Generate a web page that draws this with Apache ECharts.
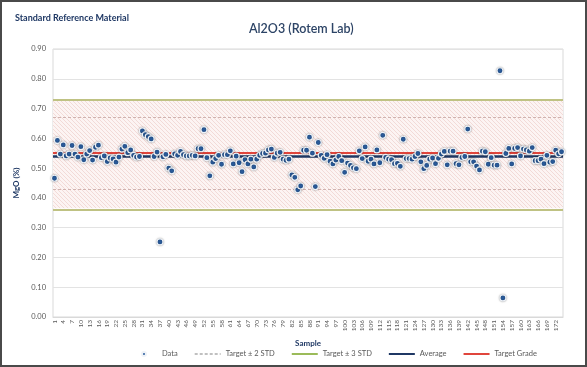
<!DOCTYPE html>
<html><head><meta charset="utf-8">
<script src="https://cdn.jsdelivr.net/npm/echarts@6/dist/echarts.min.js"></script>
<style>
html,body{margin:0;padding:0;background:#fff;}
#frame{position:absolute;left:0;top:0;width:587px;height:367px;box-sizing:border-box;border:2px solid #4a4a4a;}
#c{position:absolute;left:0;top:0;width:587px;height:367px;}
</style></head>
<body><div id="c"></div><div id="frame"></div>
<script>
const sampleValues = [
0.466,0.593,0.547,0.578,0.541,0.547,0.576,0.547,0.537,0.572,
0.528,0.547,0.559,0.527,0.570,0.577,0.535,0.541,0.522,0.534,
0.531,0.520,0.537,0.564,0.573,0.552,0.561,0.543,0.537,0.539,
0.625,0.612,0.606,0.598,0.539,0.554,0.252,0.538,0.546,0.500,
0.491,0.548,0.543,0.556,0.545,0.541,0.541,0.543,0.541,0.565,
0.565,0.629,0.535,0.474,0.520,0.532,0.543,0.513,0.545,0.545,
0.558,0.514,0.540,0.518,0.488,0.528,0.514,0.530,0.504,0.530,
0.543,0.549,0.550,0.561,0.564,0.536,0.550,0.553,0.530,0.526,
0.530,0.477,0.469,0.427,0.440,0.560,0.560,0.604,0.550,0.438,
0.586,0.543,0.533,0.545,0.523,0.514,0.527,0.539,0.525,0.486,
0.517,0.509,0.501,0.498,0.558,0.532,0.571,0.523,0.530,0.514,
0.561,0.518,0.610,0.536,0.530,0.528,0.515,0.516,0.506,0.597,
0.532,0.532,0.530,0.539,0.549,0.521,0.498,0.509,0.530,0.534,
0.515,0.533,0.547,0.556,0.511,0.557,0.557,0.515,0.511,0.536,
0.539,0.631,0.521,0.521,0.507,0.494,0.557,0.555,0.513,0.535,
0.510,0.510,0.827,0.064,0.549,0.566,0.514,0.566,0.569,0.541,
0.564,0.561,0.557,0.569,0.525,0.525,0.530,0.515,0.543,0.520,
0.522,0.560,0.548,0.555
];
const samples = sampleValues.map((v,i)=>String(i+1));
const targetGrade = 0.55;
const averageValue = 0.537;
const target2Std = [0.43, 0.67];
const target3Std = [0.365, 0.732];
const yTicks = [0,0.1,0.2,0.3,0.4,0.5,0.6,0.7,0.8,0.9];

function hatch(){
  const c=document.createElement('canvas'); c.width=4; c.height=4;
  const g=c.getContext('2d');
  g.fillStyle='#fcf4f3'; g.fillRect(0,0,4,4);
  g.fillStyle='#f2dad7';
  for(let i=0;i<4;i++){ g.fillRect(i,i,1,1); }
  return c;
}

const font = 'Lato, "Open Sans", sans-serif';
const noSym = {opacity:0};
const chart = echarts.init(document.getElementById('c'), null, {renderer:'canvas'});
chart.setOption({
  animation:false,
  textStyle:{fontFamily:font},
  title:[
    {text:'Standard Reference Material', left:10, top:9, textStyle:{fontSize:9, fontWeight:'bold', color:'#1f3864', fontFamily:font}},
    {text:'Al2O3 (Rotem Lab)', left:244, top:17, textStyle:{fontSize:12.5, fontWeight:'600', color:'#2d4466', fontFamily:font}}
  ],
  grid:{left:53, right:24, top:49, bottom:50, show:true, borderColor:'#d9d9d9', borderWidth:1},
  legend:{
    bottom:4, left:136, itemWidth:26, itemHeight:4, itemGap:16,
    textStyle:{fontSize:7.5, color:'#595959', fontFamily:font},
    data:[
      {name:'Data', icon:'circle'},
      {name:'Target ± 2 STD', itemStyle:noSym},
      {name:'Target ± 3 STD', itemStyle:noSym},
      {name:'Average', itemStyle:noSym},
      {name:'Target Grade', itemStyle:noSym}
    ]
  },
  xAxis:{
    type:'category', data:samples, boundaryGap:true,
    name:'Sample', nameLocation:'middle', nameGap:21,
    nameTextStyle:{fontSize:8, fontWeight:'bold', color:'#1f3864'},
    axisLine:{lineStyle:{color:'#d9d9d9'}},
    axisTick:{show:false},
    axisLabel:{interval:2, rotate:90, fontSize:6.5, color:'#595959', margin:3},
    splitLine:{show:false}
  },
  yAxis:{
    type:'value', min:yTicks[0], max:yTicks[yTicks.length-1], interval:0.1,
    name:'MgO (%)', nameLocation:'middle', nameGap:32,
    nameTextStyle:{fontSize:8, fontWeight:'bold', color:'#1f3864'},
    axisLine:{show:false}, axisTick:{show:false},
    axisLabel:{formatter:v=>v.toFixed(2), fontSize:7.5, color:'#595959', margin:7},
    splitLine:{lineStyle:{color:'#e3e3e3'}}
  },
  series:[
    {name:'Target ± 3 STD', type:'line', data:[], symbol:'none', showSymbol:false,
     lineStyle:{color:'#9bbb59', width:2},
     markArea:{silent:true, itemStyle:{color:{image:hatch(), repeat:'repeat'}},
       data:[[{yAxis:target3Std[0]},{yAxis:target3Std[1]}]]},
     markLine:{silent:true, symbol:'none', label:{show:false},
       lineStyle:{color:'#bfc283', width:2, type:'solid'},
       data:target3Std.map(v=>({yAxis:v}))}},
    {name:'Target ± 2 STD', type:'line', data:[], symbol:'none', showSymbol:false,
     lineStyle:{color:'#c0c0c0', width:1, type:[3,2]},
     markLine:{silent:true, symbol:'none', label:{show:false},
       lineStyle:{color:'#d0b3b0', width:1, type:[3,2]},
       data:target2Std.map(v=>({yAxis:v}))}},
    {name:'Average', type:'line', data:[], symbol:'none', showSymbol:false,
     lineStyle:{color:'#1f3864', width:2.5},
     markLine:{silent:true, symbol:'none', label:{show:false},
       lineStyle:{color:'#1f3864', width:2.5, type:'solid'},
       data:[{yAxis:averageValue}]}},
    {name:'Target Grade', type:'line', data:[], symbol:'none', showSymbol:false,
     lineStyle:{color:'#e0453c', width:2.5},
     markLine:{silent:true, symbol:'none', label:{show:false},
       lineStyle:{color:'#e0453c', width:2, type:'solid'},
       data:[{yAxis:targetGrade}]}},
    {name:'Data', type:'scatter', data:sampleValues, symbolSize:6,
     itemStyle:{color:'#2b5d9e', borderColor:'#eef2f7', borderWidth:1.2, shadowBlur:2, shadowColor:'rgba(0,0,0,0.35)', opacity:1},
     z:5}
  ]
});
</script></body></html>
